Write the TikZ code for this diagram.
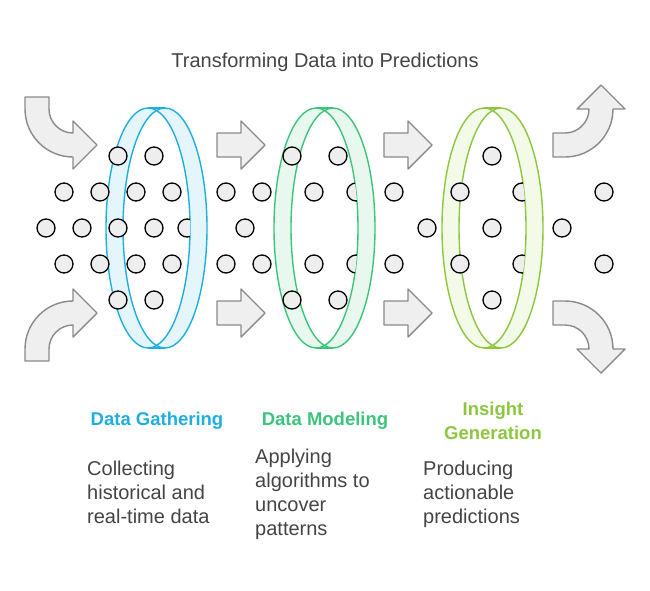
\documentclass[tikz,border=0pt]{standalone}
\usepackage{fontspec}
\setmainfont{Liberation Sans}
\begin{document}
\begin{tikzpicture}[x=1pt,y=-1pt,
  arr/.style={fill=arrfill,draw=arrdraw,line width=1.4pt,line join=round},
  dot/.style={circle,fill=dotfill,draw=black,line width=1.3pt,minimum size=18pt,inner sep=0pt},
  ttl/.style={font=\bfseries\fontsize{18.5}{24}\selectfont,align=center},
  desc/.style={font=\fontsize{20}{24}\selectfont,text=txt,align=left,anchor=north west,inner sep=0pt}]
\definecolor{arrfill}{HTML}{EFEFEF}\definecolor{arrdraw}{HTML}{8A8A8A}
\definecolor{dotfill}{HTML}{EEEEEE}\definecolor{txt}{HTML}{444444}
\definecolor{cA}{HTML}{1FAEE0}\definecolor{fA}{HTML}{E4F6FC}
\definecolor{cB}{HTML}{3CC47C}\definecolor{fB}{HTML}{E8F8EE}
\definecolor{cC}{HTML}{8DC63F}\definecolor{fC}{HTML}{F3FAE8}
\useasboundingbox (0,0) rectangle (650,590);
\node[font=\fontsize{20}{24}\selectfont,text=txt] (title) at (325,62) {Transforming Data into Predictions};
% curved arrows
\draw[arr] (25,97) -- (25,109) arc(180:90:48) -- (73,169) -- (97,145) -- (73,121) -- (73,133) arc(90:180:24) -- (49,97) -- cycle;
\draw[arr] (25,361) -- (25,349) arc(180:270:48) -- (73,289) -- (97,313) -- (73,337) -- (73,325) arc(270:180:24) -- (49,361) -- cycle;
\draw[arr] (553,157) -- (565,157) arc(90:0:48) -- (625,109) -- (601,85) -- (577,109) -- (589,109) arc(0:90:24) -- (553,133) -- cycle;
\draw[arr] (553,301) -- (565,301) arc(270:360:48) -- (625,349) -- (601,373) -- (577,349) -- (589,349) arc(360:270:24) -- (553,325) -- cycle;
% straight arrows
\foreach \x in {217,384}{\foreach \y in {145,313}{
  \draw[arr] (\x,\y-12) -- (\x+24,\y-12) -- (\x+24,\y-24) -- (\x+48,\y) -- (\x+24,\y+24) -- (\x+24,\y+12) -- (\x,\y+12) -- cycle;}}
% rings
\foreach \a/\c/\f in {148/cA/fA,316/cB/fB,484/cC/fC}{
  \fill[\f] (\a,228) ellipse [x radius=42,y radius=120];
  \fill[\f] (\a+17,228) ellipse [x radius=42,y radius=120];
  \fill[\f] (\a,108) rectangle (\a+17,348);
  \begin{scope}\clip (\a,228) ellipse [x radius=42,y radius=120];
    \fill[white] (\a+17,228) ellipse [x radius=42,y radius=120];\end{scope}
  \draw[\c,line width=1.4pt] (\a,228) ellipse [x radius=42,y radius=120];
  \draw[\c,line width=1.4pt] (\a+17,228) ellipse [x radius=42,y radius=120];
  \draw[\c,line width=1.4pt] (\a,108) -- (\a+17,108) (\a,348) -- (\a+17,348);
}
% dots
\foreach \x/\y in {118/156,154/156,64/192,100/192,136/192,172/192,226/192,262/192,
 46/228,82/228,118/228,154/228,245/228,64/264,100/264,136/264,172/264,226/264,262/264,118/300,154/300,
 292/156,338/156,314/192,394/192,314/264,394/264,292/300,338/300,427/228,
 492/156,460/192,604/192,492/228,562/228,460/264,604/264,492/300}
  \node[dot] at (\x,\y) {};
\foreach \x/\y/\a in {187/228/148,356/192/316,356/264/316,522/192/484,522/264/484}{
  \begin{scope}\clip (\a,228) ellipse [x radius=42,y radius=120];
  \node[dot] at (\x,\y) {};\end{scope}}
% labels
\node[ttl,text=cA] (l1) at (157,421) {Data Gathering};
\node[ttl,text=cB] (l2) at (325,421) {Data Modeling};
\node[ttl,text=cC] (l3) at (493,421) {Insight\\Generation};
\node[desc] (d1) at (87,461) {Collecting\\historical and\\real-time data};
\node[desc] (d2) at (255,449) {Applying\\algorithms to\\uncover\\patterns};
\node[desc] (d3) at (423,461) {Producing\\actionable\\predictions};
\end{tikzpicture}
\end{document}
